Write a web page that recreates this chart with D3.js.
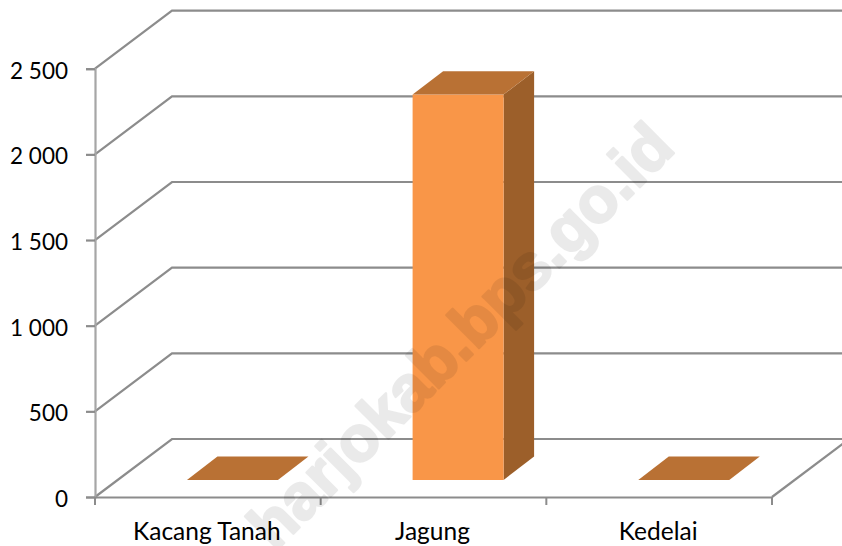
<!DOCTYPE html>
<html><head><meta charset="utf-8">
<script src="https://cdn.jsdelivr.net/npm/d3@7"></script>
<style>html,body{margin:0;padding:0;background:#fff;overflow:hidden}svg{display:block}text{font-family:Lato,"Open Sans",sans-serif;fill:#000}</style>
</head><body><svg id="c" width="842" height="546"></svg>
<script>
const categories = ["Kacang Tanah", "Jagung", "Kedelai"];
const values = [0, 2250, 0];
const yTicks = [0, 500, 1000, 1500, 2000, 2500];
const yTickLabels = ["0", "500", "1 000", "1 500", "2 000", "2 500"];
const watermark = "harjokab.bps.go.id";

const W = 842, H = 546;
const plot = {left: 95, right: 772, bottom: 497, top: 68.7};
const wall = {dx: 77, dy: -58};
const barDepth = {dx: 30.5, dy: -23.4};
const barLift = {dx: 24.6, dy: -17};

const x = d3.scaleBand().domain(categories).range([plot.left, plot.right]).paddingInner(0).paddingOuter(0);
const y = d3.scaleLinear().domain([0, 2500]).range([plot.bottom, plot.top]);
const barW = 91;
const grid = "#8c8c8c";

const svg = d3.select("#c");
const g = svg.append("g");

const wallPath = v => d3.line()([[plot.left,y(v)],[plot.left+wall.dx,y(v)+wall.dy],[W+5,y(v)+wall.dy]]);
g.selectAll("path.grid").data(yTicks).join("path").attr("class","grid")
  .attr("d",wallPath).attr("fill","none").attr("stroke",grid).attr("stroke-width",2.2);
g.append("path").attr("d",d3.line()([[plot.right,plot.bottom],[plot.right+wall.dx,plot.bottom+wall.dy]]))
  .attr("fill","none").attr("stroke",grid).attr("stroke-width",2.2);

const yAxis = d3.axisLeft(y).tickValues(yTicks).tickSize(9).tickFormat((d,i)=>yTickLabels[i]).tickPadding(7);
const ya = g.append("g").attr("transform",`translate(${plot.left},0)`).call(yAxis);
ya.select(".domain").attr("stroke","#a6a6a6").attr("stroke-width",2.2);
ya.selectAll(".tick line").attr("stroke",grid).attr("stroke-width",2.2);
ya.selectAll("text").style("font-family","Lato,'Open Sans',sans-serif").style("font-size","22.5px").attr("fill","#000")
  .attr("x",-27).attr("y",1.5).attr("dy","0.35em");

const xAxis = d3.axisBottom(x).tickValues([]).tickSizeOuter(0);
const xa = g.append("g").attr("transform",`translate(0,${plot.bottom})`).call(xAxis);
xa.select(".domain").attr("stroke",grid).attr("stroke-width",2.2);
const edges = [plot.left].concat(categories.map(c=>x(c)+x.bandwidth()));
g.selectAll("line.xt").data(edges).join("line").attr("class","xt")
  .attr("x1",d=>d).attr("x2",d=>d).attr("y1",plot.bottom).attr("y2",plot.bottom+8)
  .attr("stroke",grid).attr("stroke-width",2);
g.selectAll("text.xl").data(categories).join("text").attr("class","xl")
  .attr("x",c=>x(c)+x.bandwidth()/2-1).attr("y",539.5).attr("text-anchor","middle")
  .style("font-size","24.5px").text(c=>c);

const bars = g.selectAll("g.bar").data(categories.map((c,i)=>({c,v:values[i]}))).join("g").attr("class","bar");
const bx0 = d => x(d.c)+x.bandwidth()/2-barW/2+barLift.dx;
const base = plot.bottom+barLift.dy;
const topY = d => base-(y(0)-y(d.v));
const pts = a => a.map(p=>p.join(",")).join(" ");
bars.filter(d=>d.v>0).append("polygon").attr("fill","#9c5f2a")
  .attr("points",d=>pts([[bx0(d)+barW,topY(d)],[bx0(d)+barW+barDepth.dx,topY(d)+barDepth.dy],[bx0(d)+barW+barDepth.dx,base+barDepth.dy],[bx0(d)+barW,base]]));
bars.filter(d=>d.v>0).append("rect").attr("fill","#f99648")
  .attr("x",bx0).attr("y",topY).attr("width",barW).attr("height",d=>base-topY(d));
bars.append("polygon").attr("fill","#b97134")
  .attr("points",d=>pts([[bx0(d),topY(d)],[bx0(d)+barDepth.dx,topY(d)+barDepth.dy],[bx0(d)+barW+barDepth.dx,topY(d)+barDepth.dy],[bx0(d)+barW,topY(d)]]));

svg.append("text").attr("transform","translate(677,150) rotate(-45)").attr("text-anchor","end")
  .style("font-family","'Liberation Sans',Arial,sans-serif").style("font-weight","700").style("font-size","64px")
  .style("fill","#000").style("stroke","#000").style("stroke-width",2.5).style("stroke-linejoin","round")
  .style("opacity",0.08).text(watermark);
</script></body></html>
